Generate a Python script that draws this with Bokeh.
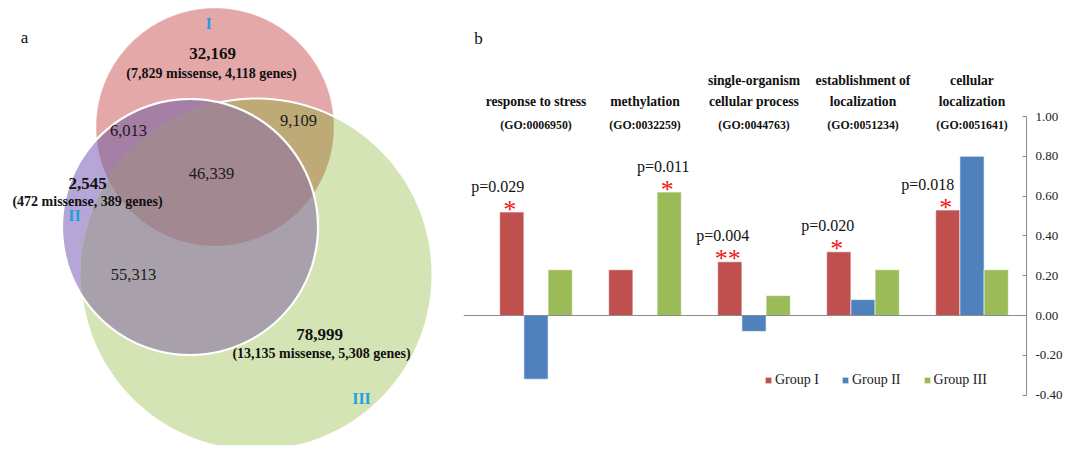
import numpy as np
from bokeh.plotting import figure
from bokeh.models import (ColumnDataSource, Range1d, FixedTicker,
                          NumeralTickFormatter, Span, Legend, LegendItem)
from bokeh.layouts import row
from bokeh.core.properties import value
from bokeh.embed import file_html
from bokeh.resources import INLINE

# ---------------- data: panel a (Venn) ----------------
set_names = ["I", "II", "III"]
unique_counts = ["32,169", "2,545", "78,999"]
unique_details = ["(7,829 missense, 4,118 genes)", "(472 missense, 389 genes)",
                  "(13,135 missense, 5,308 genes)"]
pair_names = ["I∩II", "I∩III", "II∩III"]
pair_counts = ["6,013", "9,109", "55,313"]
triple_count = ["46,339"]

# ---------------- data: panel b (bars) ----------------
terms = ["response to stress", "methylation", "single-organism\ncellular process",
         "establishment of\nlocalization", "cellular\nlocalization"]
go_ids = ["(GO:0006950)", "(GO:0032259)", "(GO:0044763)", "(GO:0051234)", "(GO:0051641)"]
groups = ["Group I", "Group II", "Group III"]
group_i = [0.52, 0.23, 0.27, 0.32, 0.53]
group_ii = [-0.32, 0.0, -0.08, 0.08, 0.80]
group_iii = [0.23, 0.62, 0.10, 0.23, 0.23]
p_values = ["p=0.029", "p=0.011", "p=0.004", "p=0.020", "p=0.018"]
stars = ["*", "*", "**", "*", "*"]
star_group = ["Group I", "Group III", "Group I", "Group I", "Group I"]
y_ticks = [-0.4, -0.2, 0.0, 0.2, 0.4, 0.6, 0.8, 1.0]

FONT = "Liberation Serif"
H = 445

# ================= panel a: Venn =================
circles = [(214.5, 126.5, 118.5), (189.5, 226.5, 128.0), (256.0, 274.0, 176.0)]
region_colors = {"I": "#E5A8A8", "II": "#B6A6D8", "III": "#D5E4B4",
                 "I∩II": "#A67FA4", "I∩III": "#BDAA76", "II∩III": "#A8A1AC",
                 "I∩II∩III": "#A28991"}


def circle_pts(c, n=1440):
    cx, cy, r = c
    t = np.linspace(0, 2 * np.pi, n, endpoint=False)
    return cx + r * np.cos(t), cy + r * np.sin(t)


def inside(x, y, c, tol=1e-6):
    cx, cy, r = c
    return (x - cx) ** 2 + (y - cy) ** 2 <= r * r + tol


def intersection(idxs):
    xs, ys = [], []
    for i in idxs:
        x, y = circle_pts(circles[i])
        m = np.ones_like(x, dtype=bool)
        for j in idxs:
            if j != i:
                m &= inside(x, y, circles[j], tol=0.5)
        xs.append(x[m]); ys.append(y[m])
    x = np.concatenate(xs); y = np.concatenate(ys)
    mx, my = x.mean(), y.mean()
    o = np.argsort(np.arctan2(y - my, x - mx))
    return list(x[o]), list(y[o])


region_sets = [[0], [1], [2], [0, 1], [0, 2], [1, 2], [0, 1, 2]]
region_names = ["I", "II", "III"] + pair_names + ["I∩II∩III"]
rx, ry = [], []
for s in region_sets:
    if len(s) == 1:
        x, y = circle_pts(circles[s[0]])
        rx.append(list(x)); ry.append(list(y))
    else:
        x, y = intersection(s)
        rx.append(x); ry.append(y)
venn_src = ColumnDataSource(dict(xs=rx, ys=ry, name=region_names,
                                 color=[region_colors[n] for n in region_names]))

pa = figure(width=463, height=H, x_range=Range1d(0, 463), y_range=Range1d(H, 0),
            toolbar_location=None, output_backend="svg", min_border=0,
            x_axis_location=None, y_axis_location=None, outline_line_color=None)
pa.grid.visible = False
pa.patches("xs", "ys", source=venn_src, fill_color="color", line_color="color", line_width=0.6)

# white outlines: circle II full, circle III outside II
x2, y2 = circle_pts(circles[1])
pa.line(list(x2) + [x2[0]], list(y2) + [y2[0]], line_color="white", line_width=2.2)
x3, y3 = circle_pts(circles[2])
m_in = inside(x3, y3, circles[1])
start = int(np.argmax(m_in))
x3 = np.roll(x3, -start); y3 = np.roll(y3, -start); m_in = np.roll(m_in, -start)
x3 = np.where(m_in, np.nan, x3); y3 = np.where(m_in, np.nan, y3)
pa.line(x3, y3, line_color="white", line_width=2)

# label positions (page pixels)
set_label_pos = [(208, 23), (74, 215), (361, 398)]
unique_pos = [(212, 53), (87, 183), (319, 334)]
detail_pos = [(211, 73), (87, 201), (321, 353)]
pair_pos = [(128, 130), (298, 120), (133, 274)]
triple_pos = [(211, 173)]

pa.text([p[0] for p in set_label_pos], [p[1] for p in set_label_pos], text=set_names,
        text_font=value(FONT), text_font_style="bold", text_font_size="16px",
        text_color="#1E9FE3", text_align="center", text_baseline="middle")
pa.text([p[0] for p in unique_pos], [p[1] for p in unique_pos], text=unique_counts,
        text_font=value(FONT), text_font_style="bold", text_font_size="17px",
        text_color="#111111", text_align="center", text_baseline="middle")
pa.text([p[0] for p in detail_pos], [p[1] for p in detail_pos], text=unique_details,
        text_font=value(FONT), text_font_style="bold", text_font_size="14px",
        text_color="#111111", text_align="center", text_baseline="middle")
pa.text([p[0] for p in pair_pos + triple_pos], [p[1] for p in pair_pos + triple_pos],
        text=pair_counts + triple_count,
        text_font=value(FONT), text_font_size="16.5px",
        text_color="#1a1a1a", text_align="center", text_baseline="middle")
pa.text([24], [37], text=["a"], text_font=value(FONT), text_font_size="17px",
        text_color="#111111", text_align="center", text_baseline="middle")

# ================= panel b: bars =================
PX = 199.0                     # pixels per unit on y
Y_TOP = 1.0 + 116 / PX         # value at the top edge of the frame
Y_BOT = Y_TOP - H / PX
SLOT = 109.0                   # pixels per category
X_LEFT = -0.5 - 18 / SLOT
X_RIGHT = 4.5


def ydata(py):
    return Y_TOP - py / PX


BW = 0.222
offsets = {"Group I": -BW, "Group II": 0.0, "Group III": BW}
colors = {"Group I": "#C0504D", "Group II": "#4F81BD", "Group III": "#9BBB59"}
vals = {"Group I": group_i, "Group II": group_ii, "Group III": group_iii}

pb = figure(width=606, height=H, x_range=Range1d(X_LEFT, X_RIGHT),
            y_range=Range1d(Y_BOT, Y_TOP), toolbar_location=None, output_backend="svg",
            min_border_left=0, min_border_right=43, min_border_top=0, min_border_bottom=0,
            x_axis_location=None, y_axis_location="right", outline_line_color=None)
pb.grid.visible = False

idx = list(range(len(terms)))
src = ColumnDataSource(dict(idx=idx, term=terms, go=go_ids, gi=group_i, gii=group_ii,
                            giii=group_iii))
renderers = {}
for g in groups:
    gsrc = ColumnDataSource(dict(x=[i + offsets[g] for i in idx], top=vals[g]))
    renderers[g] = pb.vbar(x="x", top="top", bottom=0, width=BW, source=gsrc,
                           fill_color=colors[g], line_color="white", line_width=0.6)

pb.add_layout(Span(location=0, dimension="width", line_color="#8C8C8C", line_width=1))

ax = pb.yaxis[0]
ax.ticker = FixedTicker(ticks=y_ticks)
ax.formatter = NumeralTickFormatter(format="0.00")
ax.bounds = (-0.4, 1.0)
ax.axis_line_color = "#8C8C8C"
ax.major_tick_line_color = "#8C8C8C"
ax.major_tick_in = 4
ax.major_tick_out = 0
ax.minor_tick_line_color = None
ax.major_label_standoff = 9
ax.major_label_text_font = FONT
ax.major_label_text_font_size = "13px"
ax.major_label_text_color = "#222222"

# category labels
pb.text(x="idx", y=ydata(108), text="term", source=src, text_font=value(FONT),
        text_font_style="bold", text_font_size="13.6px", text_color="#111111",
        text_align="center", text_baseline="bottom", text_line_height=1.4)
pb.text(x="idx", y=ydata(124), text="go", source=src, text_font=value(FONT),
        text_font_style="bold", text_font_size="11.8px", text_color="#111111",
        text_align="center", text_baseline="middle")

# significance annotations
p_shift_px = [-14, -6, -7, -11, -20]
star_vals = [vals[g][i] for i, g in enumerate(star_group)]
star_x = [i + offsets[g] - 2 / SLOT for i, g in enumerate(star_group)]
p_x = [i + offsets[g] + p_shift_px[i] / SLOT for i, g in enumerate(star_group)]
ann = ColumnDataSource(dict(
    sx=star_x, sy=[v + 3 / PX for v in star_vals], star=stars,
    px=p_x, py=[v + 26 / PX for v in star_vals], p=p_values,
))
pb.text(x="sx", y="sy", text="star", source=ann, text_font=value(FONT),
        text_font_size="26px", text_color="#F01818",
        text_align="center", text_baseline="alphabetic")
pb.text(x="px", y="py", text="p", source=ann, text_font=value(FONT),
        text_font_size="16px", text_color="#111111",
        text_align="center", text_baseline="middle")

pb.text(x=[X_LEFT + 15 / SLOT], y=[ydata(38)], text=["b"], text_font=value(FONT),
        text_font_size="17px", text_color="#111111", text_align="center",
        text_baseline="middle")

legend = Legend(items=[LegendItem(label=g, renderers=[renderers[g]]) for g in groups],
                orientation="horizontal", location=(301, 57), glyph_width=8, glyph_height=8,
                label_standoff=3, spacing=22, padding=0, margin=0,
                border_line_alpha=0, background_fill_alpha=0,
                label_text_font=FONT, label_text_font_size="14px", label_text_color="#222222")
pb.add_layout(legend, "center")

layout = row(pa, pb)
open("out.html", "w").write(file_html(layout, INLINE))
